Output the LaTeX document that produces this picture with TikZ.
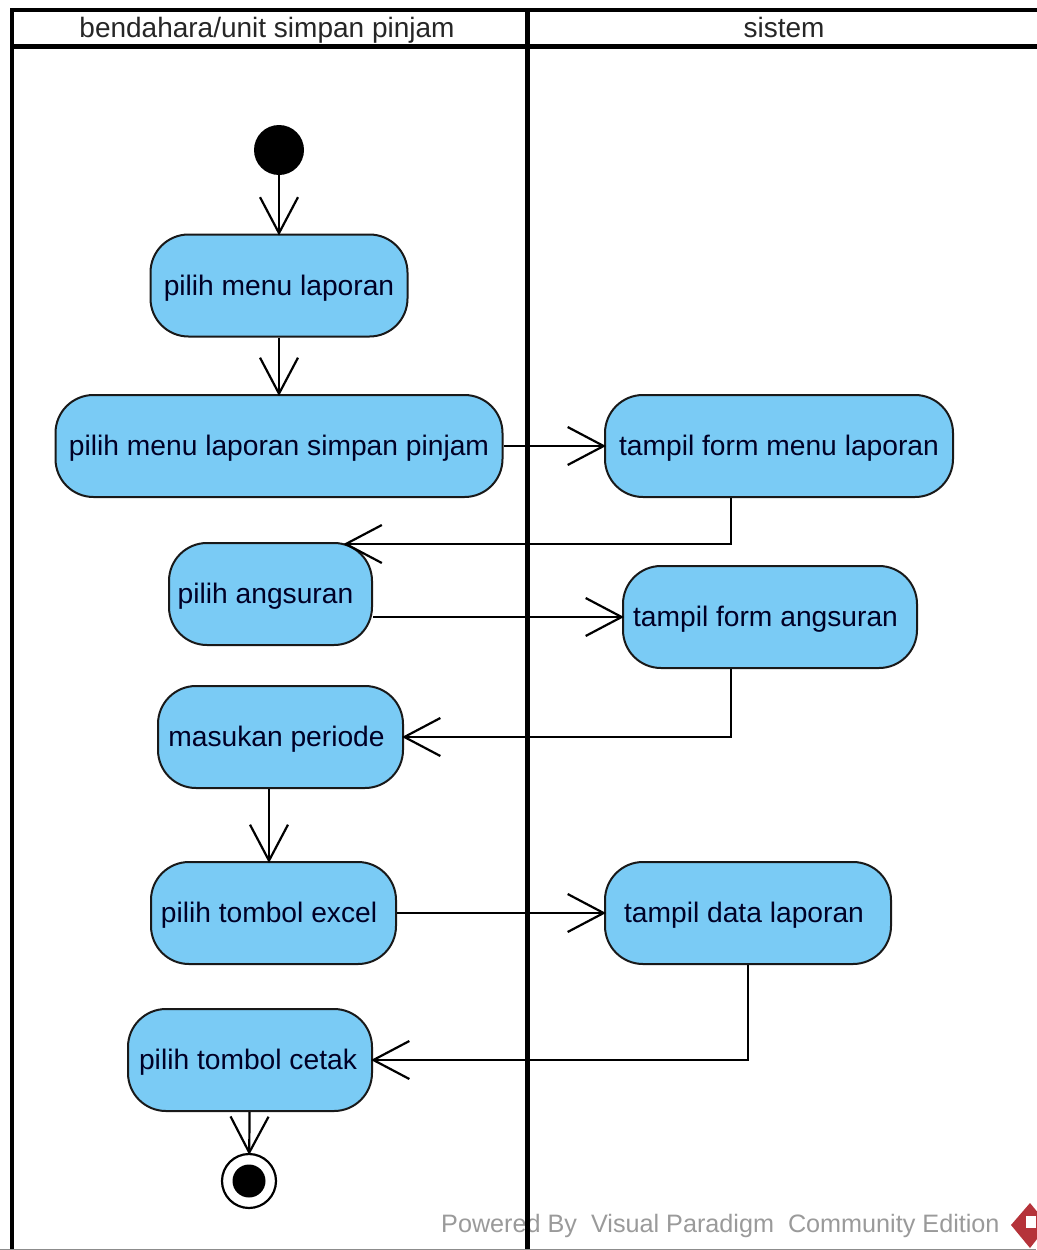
\documentclass[tikz,border=0pt]{standalone}
\usepackage{fontspec}
\setmainfont{Liberation Sans}
\usetikzlibrary{arrows.meta}
\definecolor{actfill}{HTML}{7ACBF5}
\definecolor{wmgray}{HTML}{9A9A9A}
\definecolor{logored}{HTML}{B5333A}
\tikzset{
  act/.style={draw=black!90,line width=2pt,fill=actfill,rounded corners=38pt,minimum height=102pt,inner sep=0pt,text height=25pt,text depth=6pt,font=\fontsize{28.2}{32}\selectfont,text=black!85!blue},
  flow/.style={draw=black,line width=2.2pt,shorten >=-2pt,-{Straight Barb[length=36pt,width=38pt,line width=2.2pt]}},
  lane/.style={draw=black,line width=4.5pt},
  headtxt/.style={inner sep=0pt,text height=20pt,text depth=6pt,font=\fontsize{28}{30}\selectfont,text=black!85},
}
\begin{document}
\begin{tikzpicture}[x=1pt,y=-1pt]
\useasboundingbox (0,0) rectangle (1036,1250);
\fill[white] (0,0) rectangle (1036,1250);
% watermark
\node[anchor=west,inner sep=0pt,text=wmgray,font=\fontsize{25.2}{28}\selectfont] (wm) at (441,1226) {Powered By\ \ Visual Paradigm\ \ Community Edition};
\fill[logored] (1030,1203) -- (1048,1225) -- (1030,1248) -- (1011,1225) -- cycle;
\fill[white] (1026,1216) -- (1036,1216) -- (1036,1228) -- (1026,1228) -- cycle;
% swimlanes
\draw[lane] (1040,10) -- (12,10) -- (12,1252);
\draw[lane,line width=5pt] (12,46) -- (1040,46);
\draw[lane,line width=5pt] (527,10) -- (527,1252);
\draw[draw=black!45,line width=1pt] (0,1249) -- (1036,1249);
\node[headtxt] (h1) at (267,30) {bendahara/unit simpan pinjam};
\node[headtxt] (h2) at (784,30) {sistem};
% start and end
\node[circle,fill=black,minimum size=50pt,inner sep=0pt] (start) at (279,150) {};
\node[circle,draw=black,line width=2.2pt,fill=white,minimum size=54pt,inner sep=0pt] (end) at (249,1181) {};
\node[circle,fill=black,minimum size=33pt,inner sep=0pt] (endin) at (249,1181) {};
% actions
\node[act,minimum width=257pt] (n1) at (279,285.5) {pilih menu laporan};
\node[act,minimum width=447pt] (n2) at (279,446) {pilih menu laporan simpan pinjam};
\node[act,minimum width=348pt] (n3) at (779,446) {tampil form menu laporan};
\node[act,minimum width=203pt] (n4) at (270.5,594) {\hspace*{-10pt}pilih angsuran};
\node[act,minimum width=294pt] (n5) at (770,617) {\hspace*{-9pt}tampil form angsuran};
\node[act,minimum width=245pt] (n6) at (280.5,737) {\hspace*{-8pt}masukan periode};
\node[act,minimum width=245pt] (n7) at (273.5,913) {\hspace*{-9pt}pilih tombol excel};
\node[act,minimum width=286pt] (n8) at (748,913) {\hspace*{-8pt}tampil data laporan};
\node[act,minimum width=244pt] (n9) at (250,1060) {\hspace*{-4pt}pilih tombol cetak};
% connectors
\draw[flow] (start) -- (n1);
\draw[flow] (n1) -- (n1 |- n2.north);
\draw[flow] (n2) -- (n3);
\draw[flow] ([xshift=-48pt]n3.south) |- ([xshift=75pt,yshift=-2pt]n4.north);
\draw[flow] (n4.east |- n5) -- (n5.west);
\draw[flow] ([xshift=-39pt]n5.south) |- (n6.east);
\draw[flow] ([xshift=-11.5pt]n6.south) -- ([xshift=-4.5pt]n7.north);
\draw[flow] (n7) -- (n8);
\draw[flow] (n8) |- (n9.east);
\draw[flow] (n9) -- (end);
\end{tikzpicture}
\end{document}
